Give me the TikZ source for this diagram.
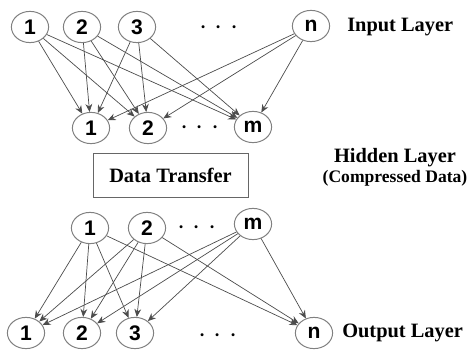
\documentclass[tikz,border=0pt]{standalone}
\usepackage{fontspec}
\setmainfont{Liberation Serif}
\newfontfamily\digitfont{Liberation Sans}
\usetikzlibrary{shapes.geometric,arrows.meta}

\tikzset{
  unit/.style={draw=black!50, line width=0.7pt, ellipse, inner sep=0pt,
    minimum width=0.93cm, minimum height=0.78cm,
    font=\digitfont\bfseries\fontsize{15}{17}\selectfont},
  dots/.style={font=\fontsize{20}{22}\selectfont, inner sep=0pt},
  layername/.style={font=\bfseries\fontsize{14.5}{17}\selectfont, inner sep=0pt},
  link/.style={->, draw=black!70, line width=0.5pt}
}
\newcommand\threedots{${\cdot}\hspace{5pt}{\cdot}\hspace{5pt}{\cdot}$}

\begin{document}
\begin{tikzpicture}[>={Stealth[length=2mm,width=1.7mm]}]
\useasboundingbox (0,0) rectangle (11.775,-8.75);

% input layer
\node[unit] (i1) at (0.75,-0.675) {1};
\node[unit] (i2) at (2.05,-0.675) {2};
\node[unit] (i3) at (3.425,-0.675) {3};
\node[dots] (idots) at (5.475,-0.7) {\threedots};
\node[unit] (in) at (7.775,-0.65) {n};
\node[layername, anchor=west] (ilabel) at (8.675,-0.675) {Input Layer};

% hidden layer, encoder side
\node[unit] (h1) at (2.275,-3.2) {1};
\node[unit] (h2) at (3.7,-3.2) {2};
\node[dots] (hdots) at (5.0,-3.2) {\threedots};
\node[unit] (hm) at (6.325,-3.175) {m};

\node[draw=black!60, line width=0.6pt, minimum width=3.875cm, minimum height=1.1cm,
  font=\bfseries\fontsize{14.5}{17}\selectfont] (xfer) at (4.2625,-4.375) {Data Transfer};

\node[layername] (hlabel) at (9.875,-3.95) {Hidden Layer};
\node[font=\bfseries\fontsize{12.5}{15}\selectfont, inner sep=0pt] (hnote) at (9.875,-4.45) {(Compressed Data)};

% hidden layer, decoder side
\node[unit] (g1) at (2.25,-5.7) {1};
\node[unit] (g2) at (3.675,-5.7) {2};
\node[dots] (gdots) at (4.925,-5.7) {\threedots};
\node[unit] (gm) at (6.325,-5.6) {m};

% output layer
\node[unit] (o1) at (0.65,-8.325) {1};
\node[unit] (o2) at (2.05,-8.325) {2};
\node[unit] (o3) at (3.375,-8.325) {3};
\node[dots] (odots) at (5.45,-8.4) {\threedots};
\node[unit] (on) at (7.85,-8.325) {n};
\node[layername, anchor=west] (olabel) at (8.55,-8.325) {Output Layer};

\foreach \s in {i1,i2,i3,in}
  \foreach \t in {h1,h2,hm}
    \draw[link] (\s) -- (\t);

\foreach \s in {g1,g2,gm}
  \foreach \t in {o1,o2,o3,on}
    \draw[link] (\s) -- (\t);
\end{tikzpicture}
\end{document}
